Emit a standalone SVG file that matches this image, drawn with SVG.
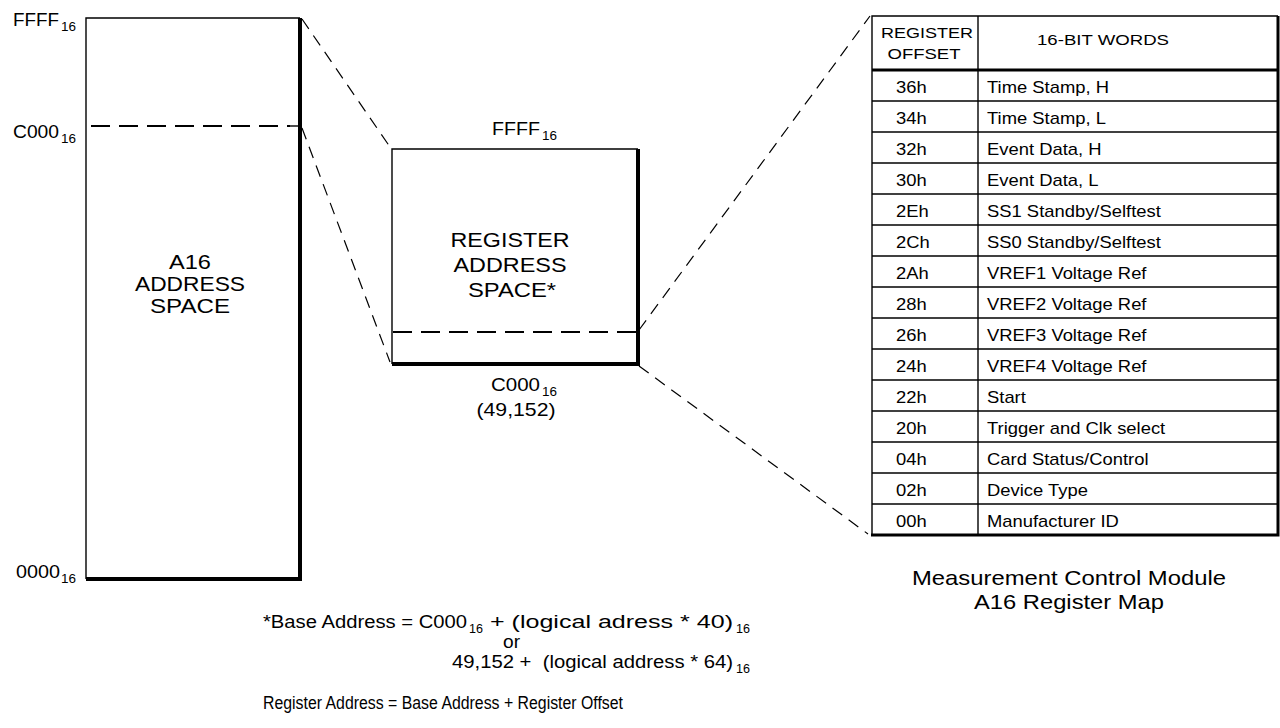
<svg xmlns="http://www.w3.org/2000/svg" width="1280" height="728" viewBox="0 0 1280 728">
<style>
text{font-family:"Liberation Sans",Arial,sans-serif;fill:#000}
.thin{fill:none;stroke:#000;stroke-width:1.4}
.thick{fill:none;stroke:#000;stroke-width:4}
.mid{fill:none;stroke:#000;stroke-width:3}
.dash{fill:none;stroke:#000;stroke-width:1.8;stroke-dasharray:19 9}
.conn{fill:none;stroke:#000;stroke-width:1.2;stroke-dasharray:12 8}
.lbl{font-size:18px}
.sub{font-size:12px}
.big{font-size:21px}
.tb{font-size:16px}
.th{font-size:15.5px}
.fn{font-size:17.5px;white-space:pre}
</style>
<rect width="1280" height="728" fill="#fff"/>

<g id="a16-space">
<path class="thin" d="M86 579 V18 H300"/>
<path class="thick" d="M300 18 V579 H86"/>
<line class="dash" x1="91" y1="126" x2="290" y2="126"/>
<line class="thin" x1="288" y1="126" x2="300" y2="126"/>
<text class="big" x="190" y="269" text-anchor="middle" textLength="42" lengthAdjust="spacingAndGlyphs">A16</text>
<text class="big" x="190" y="291" text-anchor="middle" textLength="110" lengthAdjust="spacingAndGlyphs">ADDRESS</text>
<text class="big" x="190" y="313" text-anchor="middle" textLength="80" lengthAdjust="spacingAndGlyphs">SPACE</text>
<text class="lbl" x="13" y="26" textLength="46" lengthAdjust="spacingAndGlyphs">FFFF</text>
<text class="sub" x="61" y="31" textLength="15" lengthAdjust="spacingAndGlyphs">16</text>
<text class="lbl" x="13" y="138" textLength="46" lengthAdjust="spacingAndGlyphs">C000</text>
<text class="sub" x="61" y="143" textLength="15" lengthAdjust="spacingAndGlyphs">16</text>
<text class="lbl" x="16" y="578" textLength="44" lengthAdjust="spacingAndGlyphs">0000</text>
<text class="sub" x="61" y="583" textLength="15" lengthAdjust="spacingAndGlyphs">16</text>
</g>

<g id="register-space">
<path class="thin" d="M392 364 V149 H638"/>
<path class="thick" d="M638 149 V364 H392"/>
<line class="dash" x1="393" y1="332" x2="636" y2="332"/>
<text class="big" x="510" y="247" text-anchor="middle" textLength="119" lengthAdjust="spacingAndGlyphs">REGISTER</text>
<text class="big" x="510" y="272" text-anchor="middle" textLength="113" lengthAdjust="spacingAndGlyphs">ADDRESS</text>
<text class="big" x="512" y="297" text-anchor="middle" textLength="88" lengthAdjust="spacingAndGlyphs">SPACE*</text>
<text class="lbl" x="492" y="135" textLength="48" lengthAdjust="spacingAndGlyphs">FFFF</text>
<text class="sub" x="542" y="140" textLength="15" lengthAdjust="spacingAndGlyphs">16</text>
<text class="lbl" x="491" y="391" textLength="49" lengthAdjust="spacingAndGlyphs">C000</text>
<text class="sub" x="542" y="396" textLength="15" lengthAdjust="spacingAndGlyphs">16</text>
<text class="lbl" x="516" y="416" text-anchor="middle" textLength="79" lengthAdjust="spacingAndGlyphs">(49,152)</text>
</g>

<g id="connectors">
<line class="conn" x1="302" y1="19" x2="390" y2="147"/>
<line class="conn" x1="302" y1="128" x2="390" y2="362"/>
<line class="conn" x1="639" y1="330" x2="870" y2="16"/>
<line class="conn" x1="639" y1="366" x2="868" y2="534"/>
</g>

<g id="register-map">
<path class="thin" d="M872 535 V16 H1278"/>
<line class="thin" x1="978" y1="16" x2="978" y2="535"/>
<path class="mid" d="M1278 16 V535 H871"/>
<line class="mid" x1="872" y1="70" x2="1278" y2="70"/>
<g class="thin">
<line x1="872" y1="101" x2="1278" y2="101"/>
<line x1="872" y1="132" x2="1278" y2="132"/>
<line x1="872" y1="163" x2="1278" y2="163"/>
<line x1="872" y1="194" x2="1278" y2="194"/>
<line x1="872" y1="225" x2="1278" y2="225"/>
<line x1="872" y1="256" x2="1278" y2="256"/>
<line x1="872" y1="287" x2="1278" y2="287"/>
<line x1="872" y1="318" x2="1278" y2="318"/>
<line x1="872" y1="349" x2="1278" y2="349"/>
<line x1="872" y1="380" x2="1278" y2="380"/>
<line x1="872" y1="411" x2="1278" y2="411"/>
<line x1="872" y1="442" x2="1278" y2="442"/>
<line x1="872" y1="473" x2="1278" y2="473"/>
<line x1="872" y1="504" x2="1278" y2="504"/>
</g>
<text class="th" x="927" y="38" text-anchor="middle" textLength="92" lengthAdjust="spacingAndGlyphs">REGISTER</text>
<text class="th" x="924" y="59" text-anchor="middle" textLength="73" lengthAdjust="spacingAndGlyphs">OFFSET</text>
<text class="th" x="1103" y="45" text-anchor="middle" textLength="132" lengthAdjust="spacingAndGlyphs">16-BIT WORDS</text>
<g transform="translate(896 0) scale(1.15 1)" class="tb">
<text x="0" y="93">36h</text>
<text x="0" y="124">34h</text>
<text x="0" y="155">32h</text>
<text x="0" y="186">30h</text>
<text x="0" y="217">2Eh</text>
<text x="0" y="248">2Ch</text>
<text x="0" y="279">2Ah</text>
<text x="0" y="310">28h</text>
<text x="0" y="341">26h</text>
<text x="0" y="372">24h</text>
<text x="0" y="403">22h</text>
<text x="0" y="434">20h</text>
<text x="0" y="465">04h</text>
<text x="0" y="496">02h</text>
<text x="0" y="527">00h</text>
</g>
<g transform="translate(987 0) scale(1.15 1)" class="tb">
<text x="0" y="93">Time Stamp, H</text>
<text x="0" y="124">Time Stamp, L</text>
<text x="0" y="155">Event Data, H</text>
<text x="0" y="186">Event Data, L</text>
<text x="0" y="217">SS1 Standby/Selftest</text>
<text x="0" y="248">SS0 Standby/Selftest</text>
<text x="0" y="279">VREF1 Voltage Ref</text>
<text x="0" y="310">VREF2 Voltage Ref</text>
<text x="0" y="341">VREF3 Voltage Ref</text>
<text x="0" y="372">VREF4 Voltage Ref</text>
<text x="0" y="403">Start</text>
<text x="0" y="434">Trigger and Clk select</text>
<text x="0" y="465">Card Status/Control</text>
<text x="0" y="496">Device Type</text>
<text x="0" y="527">Manufacturer ID</text>
</g>
<text class="big" x="1069" y="585" text-anchor="middle" textLength="314" lengthAdjust="spacingAndGlyphs">Measurement Control Module</text>
<text class="big" x="1069" y="609" text-anchor="middle" textLength="190" lengthAdjust="spacingAndGlyphs">A16 Register Map</text>
</g>

<g id="footnote">
<text class="fn" x="263" y="628" textLength="204" lengthAdjust="spacingAndGlyphs">*Base Address = C000</text>
<text class="sub" x="469" y="633" textLength="14" lengthAdjust="spacingAndGlyphs">16</text>
<text class="fn" x="490" y="628" textLength="243" lengthAdjust="spacingAndGlyphs">+ (logical adress * 40)</text>
<text class="sub" x="736" y="633" textLength="14" lengthAdjust="spacingAndGlyphs">16</text>
<text class="fn" x="503" y="648" textLength="17" lengthAdjust="spacingAndGlyphs">or</text>
<text class="fn" x="452" y="668" textLength="281" lengthAdjust="spacingAndGlyphs">49,152 +  (logical address * 64)</text>
<text class="sub" x="736" y="673" textLength="14" lengthAdjust="spacingAndGlyphs">16</text>
<text class="fn" x="263" y="709" textLength="360" lengthAdjust="spacingAndGlyphs">Register Address = Base Address + Register Offset</text>
</g>
</svg>
